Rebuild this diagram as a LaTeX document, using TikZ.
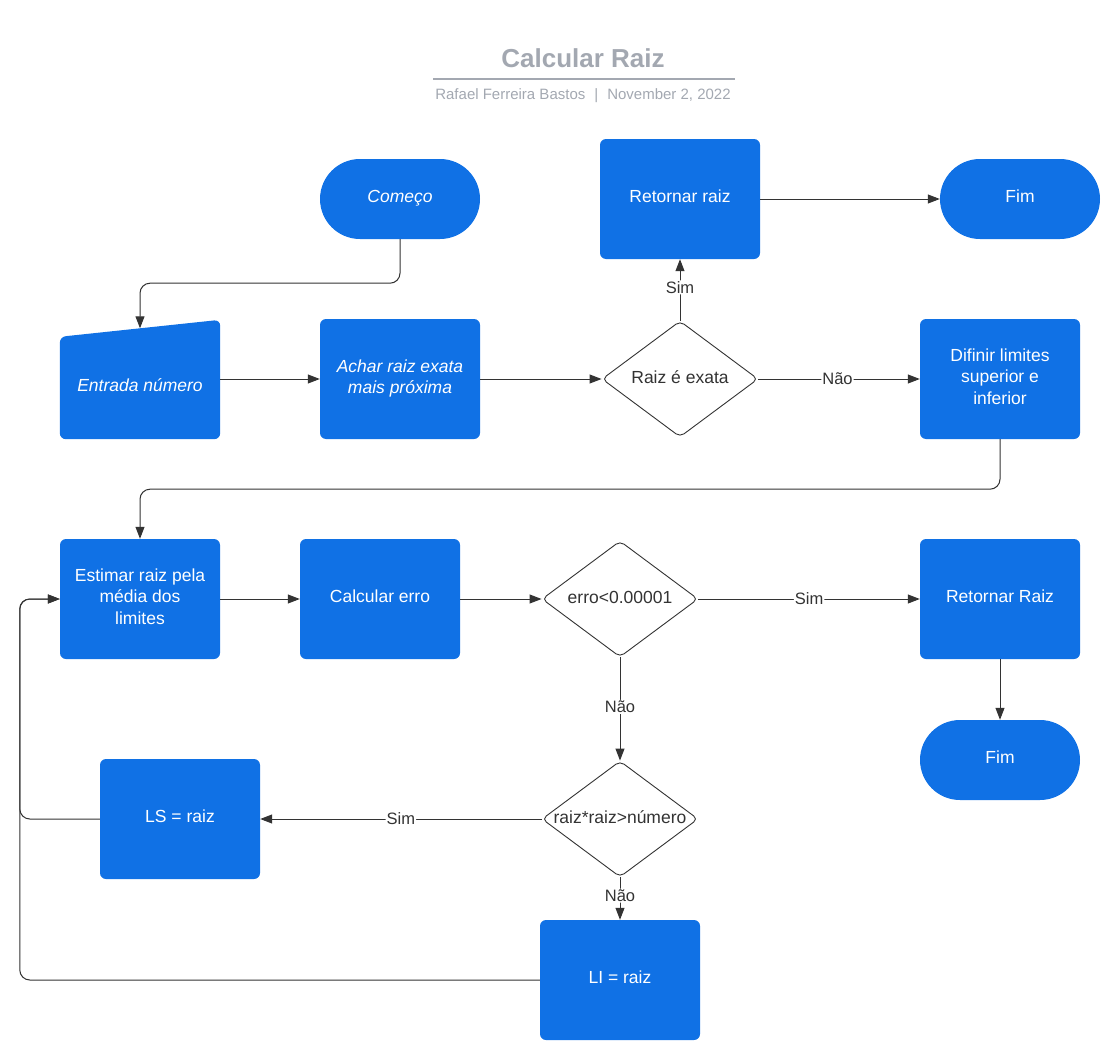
\documentclass[tikz,border=0pt]{standalone}
\usepackage{fontspec}
\setmainfont{Liberation Sans}
\usetikzlibrary{arrows.meta, shapes.geometric, calc, positioning, backgrounds}

\definecolor{lucidblue}{HTML}{1071E5}
\definecolor{titlegray}{HTML}{A3A8B1}
\definecolor{linegray}{HTML}{333333}

\tikzset{
  box/.style={rectangle, rounded corners=6pt, fill=lucidblue, text=white,
    minimum width=160pt, minimum height=120pt, align=center, inner sep=0pt,
    text depth=5pt, font=\fontsize{17.5}{21.5}\selectfont},
  terminal/.style={box, rounded corners=40pt, minimum height=80pt},
  decision/.style={diamond, draw=linegray, line width=0.9pt, rounded corners=5pt,
    fill=white, minimum width=156pt, minimum height=116pt, inner sep=0pt,
    label={[text=linegray, yshift=2pt, font=\fontsize{17.5}{21.5}\selectfont]center:#1}},
  flow/.style={draw=linegray, line width=1pt, rounded corners=10pt,
    -{Triangle[length=12pt, width=9pt]}},
  tag/.style={fill=white, text=linegray, inner sep=1pt,
    font=\fontsize{16.5}{19}\selectfont},
}

\begin{document}
\begin{tikzpicture}[x=1pt, y=-1pt]
\useasboundingbox (0,0) rectangle (1112,1049);

%% Title block
\node[text=titlegray, font=\bfseries\fontsize{26}{30}\selectfont] (title) at (583,58) {Calcular Raiz};
\draw[titlegray, line width=1.6pt] (433,79) -- (735,79);
\node[text=titlegray, font=\fontsize{15}{18}\selectfont] (author) at (583,96)
  {Rafael Ferreira Bastos\hspace{9pt}|\hspace{9pt}November 2, 2022};

%% First row
\node[terminal, font=\itshape\fontsize{17.5}{21.5}\selectfont] (comeco) at (400,199) {Começo};
\node[box] (retornar1) at (680,199) {Retornar raiz};
\node[terminal] (fim1) at (1020,199) {Fim};

%% Second row
\node[box, fill=none, minimum height=102pt, font=\itshape\fontsize{17.5}{21.5}\selectfont] (entrada) at (140,388) {Entrada número};
\begin{scope}[on background layer]
  \fill[lucidblue, rounded corners=6pt] (entrada.south west) -- (entrada.north west)
    -- ([yshift=17pt]entrada.north east) -- (entrada.south east) -- cycle;
\end{scope}
\coordinate (entradatop) at ([yshift=8.5pt]entrada.north);
\node[box, font=\itshape\fontsize{17.5}{21.5}\selectfont] (achar) at (400,379) {Achar raiz exata\\mais próxima};
\node[decision={Raiz é exata}] (exata) at (680,379) {};
\node[box] (difinir) at (1000,379) {Difinir limites\\superior e\\inferior};

%% Third row
\node[box] (estimar) at (140,599) {Estimar raiz pela\\média dos\\limites};
\node[box] (calcerro) at (380,599) {Calcular erro};
\node[decision={erro<0.00001}] (erro) at (620,599) {};
\node[box] (retornar2) at (1000,599) {Retornar Raiz};
\node[terminal] (fim2) at (1000,760) {Fim};

%% Bounds update
\node[decision={raiz*raiz>número}] (maior) at (620,819) {};
\node[box] (ls) at (180,819) {LS = raiz};
\node[box] (li) at (620,980) {LI = raiz};

%% Connectors
\draw[flow] (comeco.south) -- ([yshift=-44pt]comeco.south) -| (entradatop);
\draw[flow] (entrada.east |- achar.east) -- (achar.west);
\draw[flow] (achar.east) -- (exata.west);
\draw[flow] (exata.north) -- node[tag, pos=0.54]{Sim} (retornar1.south);
\draw[flow] (exata.east) -- node[tag, pos=0.49]{Não} (difinir.west);
\draw[flow] (retornar1.east) -- (fim1.west);
\draw[flow] (difinir.south) -- ([yshift=-50pt]difinir.south) -| (estimar.north);

\draw[flow] (estimar.east) -- (calcerro.west);
\draw[flow] (calcerro.east) -- (erro.west);
\draw[flow] (erro.east) -- node[tag, pos=0.5]{Sim} (retornar2.west);
\draw[flow] (retornar2.south) -- (fim2.north);
\draw[flow] (erro.south) -- node[tag, pos=0.48]{Não} (maior.north);

\draw[flow] (maior.west) -- node[tag, pos=0.5]{Sim} (ls.east);
\draw[flow] (maior.south) -- node[tag, pos=0.43]{Não} (li.north);

%% Loop back to estimate
\draw[flow] (ls.west) -| ([xshift=-40pt]estimar.west) -- (estimar.west);
\draw[flow] (li.west) -| ([xshift=-40pt]estimar.west) -- (estimar.west);

\end{tikzpicture}
\end{document}
